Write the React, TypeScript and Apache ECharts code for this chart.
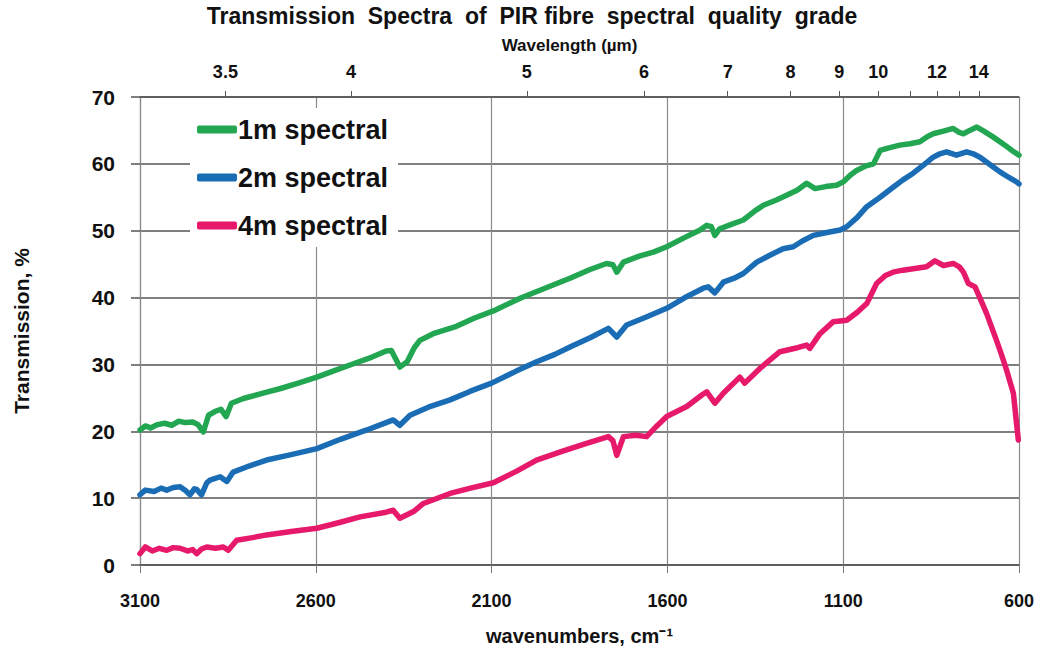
import React, { useEffect, useRef } from "react";
import * as echarts from "echarts";

// ---- data ----
const wavenumberTicks = [3100, 2600, 2100, 1600, 1100, 600];
const yTicks = [0, 10, 20, 30, 40, 50, 60, 70];
const wavelengthTicks = [3.5, 4, 5, 6, 7, 8, 9, 10, 11, 12, 13, 14];
const wavelengthLabels = [3.5, 4, 5, 6, 7, 8, 9, 10, 12, 14];

const seriesNames = ["1m spectral", "2m spectral", "4m spectral"];
const seriesColors = ["#22a651", "#1a6db5", "#e6196a"];

const wn1m = [3100, 3085, 3070, 3050, 3030, 3010, 2990, 2970, 2950, 2935, 2920, 2905, 2885, 2870, 2855, 2840, 2806, 2750, 2700, 2650, 2597, 2545, 2493, 2440, 2400, 2385, 2361, 2340, 2320, 2304, 2266, 2200, 2150, 2095, 2019, 1943, 1877, 1820, 1773, 1755, 1744, 1725, 1680, 1640, 1602, 1550, 1507, 1488, 1475, 1465, 1451, 1420, 1384, 1350, 1327, 1290, 1261, 1230, 1204, 1180, 1150, 1119, 1100, 1080, 1062, 1035, 1014, 995, 970, 939, 910, 882, 860, 844, 815, 787, 770, 758, 740, 720, 700, 673, 640, 620, 600];
const t1m = [20.2, 20.8, 20.5, 21.0, 21.2, 20.9, 21.5, 21.3, 21.4, 21.0, 19.9, 22.4, 23.0, 23.3, 22.2, 24.2, 24.9, 25.7, 26.4, 27.2, 28.1, 29.1, 30.1, 31.1, 32.0, 32.1, 29.6, 30.4, 32.5, 33.6, 34.6, 35.7, 36.9, 38.0, 39.9, 41.5, 42.9, 44.2, 45.1, 44.9, 43.8, 45.3, 46.2, 46.8, 47.6, 49.0, 50.1, 50.8, 50.6, 49.3, 50.3, 50.9, 51.6, 53.0, 53.8, 54.6, 55.3, 56.1, 57.1, 56.3, 56.6, 56.8, 57.3, 58.3, 59.0, 59.7, 60.0, 62.0, 62.4, 62.8, 63.0, 63.3, 64.1, 64.5, 64.9, 65.3, 64.7, 64.5, 65.0, 65.5, 64.9, 64.0, 62.8, 62.0, 61.3];

const wn2m = [3100, 3085, 3060, 3040, 3024, 3005, 2986, 2970, 2958, 2945, 2939, 2925, 2910, 2901, 2872, 2853, 2835, 2790, 2740, 2670, 2597, 2530, 2455, 2400, 2380, 2361, 2332, 2280, 2218, 2160, 2100, 2030, 1972, 1920, 1877, 1820, 1768, 1744, 1716, 1660, 1602, 1550, 1498, 1484, 1465, 1441, 1410, 1384, 1346, 1310, 1271, 1242, 1215, 1185, 1150, 1109, 1090, 1060, 1033, 995, 958, 930, 901, 870, 844, 825, 806, 778, 749, 730, 711, 680, 654, 630, 607, 600];
const t2m = [10.5, 11.2, 11.0, 11.5, 11.2, 11.6, 11.7, 11.1, 10.5, 11.4, 11.3, 10.5, 12.3, 12.7, 13.2, 12.5, 13.9, 14.8, 15.7, 16.5, 17.4, 18.8, 20.2, 21.3, 21.7, 20.9, 22.4, 23.6, 24.7, 26.0, 27.2, 29.0, 30.4, 31.5, 32.6, 34.0, 35.4, 34.1, 35.9, 37.1, 38.4, 40.0, 41.4, 41.6, 40.7, 42.3, 42.9, 43.6, 45.3, 46.3, 47.3, 47.6, 48.5, 49.3, 49.7, 50.1, 50.6, 52.0, 53.6, 55.0, 56.5, 57.6, 58.6, 59.9, 61.0, 61.5, 61.8, 61.3, 61.8, 61.5, 61.0, 59.8, 58.8, 58.0, 57.3, 57.0];

const wn4m = [3100, 3085, 3065, 3045, 3024, 3005, 2986, 2965, 2950, 2939, 2925, 2910, 2885, 2863, 2849, 2825, 2780, 2740, 2670, 2597, 2530, 2474, 2400, 2380, 2361, 2322, 2294, 2218, 2160, 2095, 2030, 1972, 1900, 1830, 1768, 1755, 1744, 1725, 1690, 1659, 1630, 1602, 1545, 1500, 1488, 1465, 1441, 1394, 1380, 1337, 1280, 1230, 1204, 1195, 1166, 1128, 1090, 1060, 1033, 1005, 980, 958, 930, 901, 863, 839, 815, 787, 770, 758, 744, 725, 710, 692, 664, 650, 635, 616, 602];
const t4m = [1.7, 2.7, 2.1, 2.5, 2.2, 2.6, 2.5, 2.1, 2.3, 1.7, 2.4, 2.7, 2.5, 2.7, 2.2, 3.7, 4.1, 4.5, 5.0, 5.5, 6.4, 7.2, 7.9, 8.2, 7.0, 8.0, 9.2, 10.7, 11.5, 12.3, 14.0, 15.7, 17.0, 18.2, 19.2, 18.6, 16.4, 19.2, 19.4, 19.2, 20.8, 22.2, 23.7, 25.5, 25.9, 24.2, 25.7, 28.1, 27.2, 29.4, 31.9, 32.5, 32.9, 32.4, 34.6, 36.4, 36.6, 37.8, 39.1, 42.1, 43.3, 43.8, 44.1, 44.3, 44.6, 45.5, 44.8, 45.1, 44.6, 43.8, 42.1, 41.6, 39.8, 37.6, 33.6, 31.5, 29.1, 25.7, 18.7];

const FONT = "'Liberation Sans', Arial, sans-serif";

function pairs(xs: number[], ys: number[]) {
  return xs.map((x, i) => [x, ys[i]]);
}

export default function App() {
  const ref = useRef<HTMLDivElement>(null);

  useEffect(() => {
    if (!ref.current) return;
    const chart = echarts.init(ref.current, undefined, { renderer: "svg" });
    const dataSets = [pairs(wn1m, t1m), pairs(wn2m, t2m), pairs(wn4m, t4m)];

    chart.setOption({
      animation: false,
      backgroundColor: "#ffffff",
      title: {
        text: "Transmission  Spectra  of  PIR fibre  spectral  quality  grade",
        left: 532,
        top: 3,
        padding: 0,
        textAlign: "center",
        textStyle: { fontFamily: FONT, fontWeight: "bold", fontSize: 23, lineHeight: 26, color: "#111" },
      },
      grid: { left: 140, right: 24, top: 97, bottom: 87, containLabel: false },
      legend: {
        show: true,
        data: seriesNames,
        orient: "vertical",
        left: 190,
        top: 108,
        icon: "roundRect",
        itemWidth: 40,
        itemHeight: 8,
        itemGap: 21,
        padding: [8, 10, 8, 7],
        backgroundColor: "#ffffff",
        textStyle: { fontFamily: FONT, fontWeight: "bold", fontSize: 27, color: "#111", padding: [0, 0, 0, -4] },
        z: 5,
      },
      xAxis: [
        {
          type: "value",
          position: "bottom",
          min: 600,
          max: 3100,
          inverse: true,
          name: "wavenumbers, cm\u207B\u00B9",
          nameLocation: "middle",
          nameGap: 61,
          nameTextStyle: { fontFamily: FONT, fontWeight: "bold", fontSize: 20, color: "#111" },
          axisLine: { show: true, lineStyle: { color: "#555", width: 1.5 } },
          axisTick: { show: true, length: 8, customValues: wavenumberTicks, lineStyle: { color: "#777" } },
          axisLabel: {
            customValues: wavenumberTicks,
            formatter: (v: number) => String(v),
            margin: 27,
            fontFamily: FONT,
            fontWeight: "bold",
            fontSize: 18,
            color: "#111",
          },
          splitLine: { show: true, lineStyle: { color: "#8a8a8a", width: 1.2 } },
        },
        {
          type: "value",
          position: "top",
          min: 600,
          max: 3100,
          inverse: true,
          name: "Wavelength (\u00B5m)",
          nameLocation: "middle",
          nameGap: 43,
          nameTextStyle: { fontFamily: FONT, fontWeight: "bold", fontSize: 17, lineHeight: 18, color: "#111", padding: [0, 20, 0, 0] },
          axisLine: { show: true, lineStyle: { color: "#555", width: 1.5 } },
          axisTick: {
            show: true,
            length: 6,
            customValues: wavelengthTicks.map((l) => 10000 / l),
            lineStyle: { color: "#555" },
          },
          axisLabel: {
            customValues: wavelengthLabels.map((l) => 10000 / l),
            formatter: (v: number) => String(Math.round((10000 / v) * 10) / 10),
            margin: 16,
            fontFamily: FONT,
            fontWeight: "bold",
            fontSize: 18,
            color: "#111",
          },
          splitLine: { show: false },
        },
      ],
      yAxis: {
        type: "value",
        min: 0,
        max: 70,
        interval: 10,
        name: "Transmission, %",
        nameLocation: "middle",
        nameGap: 108,
        nameTextStyle: { fontFamily: FONT, fontWeight: "bold", fontSize: 21, color: "#111" },
        axisLine: { show: true, lineStyle: { color: "#8a8a8a", width: 1.2 } },
        axisTick: { show: true, length: 9, lineStyle: { color: "#555", width: 1.5 } },
        axisLabel: {
          customValues: yTicks,
          margin: 25,
          fontFamily: FONT,
          fontWeight: "bold",
          fontSize: 21,
          color: "#111",
        },
        splitLine: { show: true, lineStyle: { color: "#555", width: 1.5 } },
      },
      series: seriesNames.map((name, i) => ({
        name,
        type: "line",
        xAxisIndex: 0,
        data: dataSets[i],
        showSymbol: false,
        symbol: "none",
        smooth: false,
        lineStyle: { color: seriesColors[i], width: 5.5, join: "round", cap: "round" },
        itemStyle: { color: seriesColors[i] },
        z: 3,
      })),
    });

    return () => chart.dispose();
  }, []);

  return (
    <div
      ref={ref}
      style={{ position: "fixed", left: 0, top: 0, width: 1043, height: 652, background: "#fff" }}
    />
  );
}
